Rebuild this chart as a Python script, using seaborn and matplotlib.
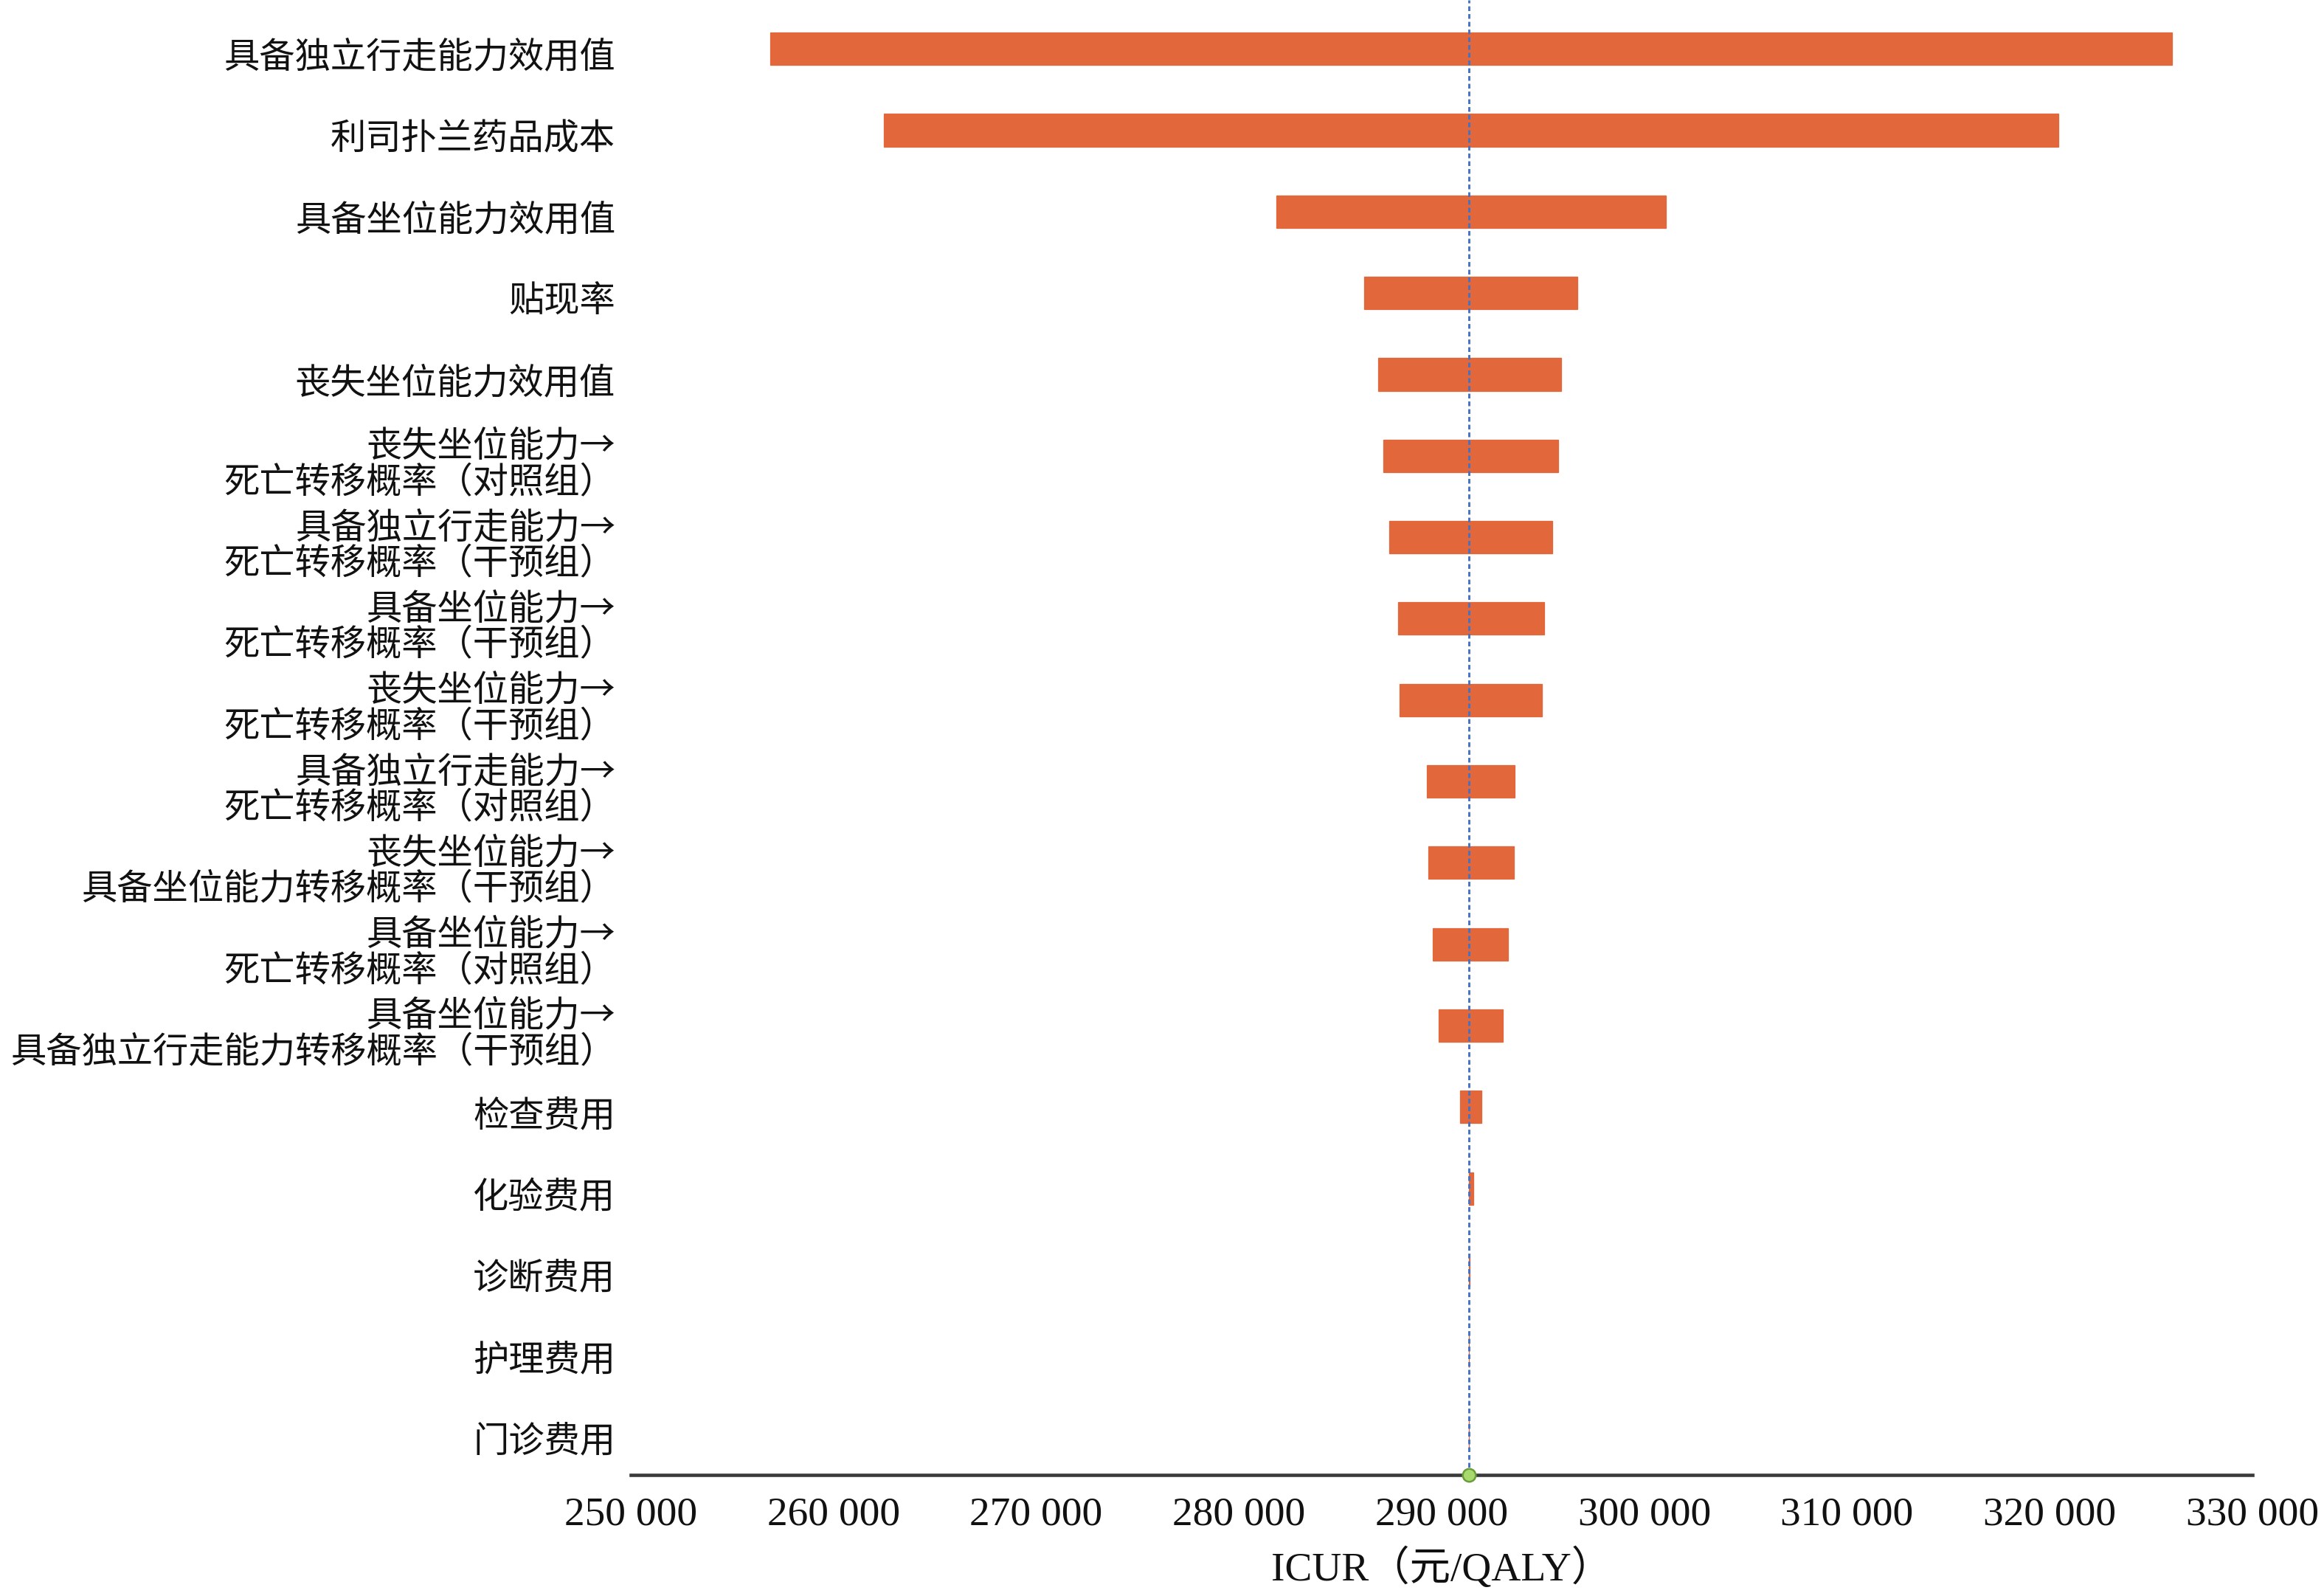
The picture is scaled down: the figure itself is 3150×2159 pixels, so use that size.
import matplotlib
matplotlib.use('Agg')
import matplotlib.pyplot as plt
import matplotlib.transforms as mtransforms
import seaborn as sns
import pandas as pd

# Parameters, top to bottom
labels = ['具备独立行走能力效用值',
          '利司扑兰药品成本',
          '具备坐位能力效用值',
          '贴现率',
          '丧失坐位能力效用值',
          '丧失坐位能力→\n死亡转移概率（对照组）',
          '具备独立行走能力→\n死亡转移概率（干预组）',
          '具备坐位能力→\n死亡转移概率（干预组）',
          '丧失坐位能力→\n死亡转移概率（干预组）',
          '具备独立行走能力→\n死亡转移概率（对照组）',
          '丧失坐位能力→\n具备坐位能力转移概率（干预组）',
          '具备坐位能力→\n死亡转移概率（对照组）',
          '具备坐位能力→\n具备独立行走能力转移概率（干预组）',
          '检查费用', '化验费用', '诊断费用', '护理费用', '门诊费用']

# ICUR at the low / high end of each parameter range (元/QALY)
low = [256880, 262470, 281850, 286190, 286880, 287125, 287405, 287840, 287915,
       289270, 289335, 289550, 289855, 290910, 291360, 291335, 291340, 291345]
high = [326030, 320430, 301065, 296690, 295890, 295750, 295470, 295060, 294950,
        293615, 293555, 293265, 293030, 291975, 291555, 291370, 291365, 291360]

base_icur = 291350
xticks = [250000, 260000, 270000, 280000, 290000, 300000, 310000, 320000, 330000]

df = pd.DataFrame({'param': labels, 'low': low, 'high': high})
df['span'] = df['high'] - df['low']

sns.set_style('white')
plt.rcParams['font.family'] = ['Liberation Serif', 'Noto Sans CJK SC']

fig = plt.figure(figsize=(10.5, 7.1967), dpi=300)
ax = fig.add_axes([0.2714, 0.0741, 0.6978, 0.9259])

bar_color = '#E2673A'
sns.barplot(data=df, y='param', x='span', orient='h', order=labels,
            color=bar_color, saturation=1, width=0.4, ax=ax,
            left=df['low'].values, edgecolor=bar_color, linewidth=0.3)

# base case line and marker
ax.axvline(base_icur, color='#4472C4', lw=0.7, ls=(0, (2.2, 1.4)), zorder=3)
ax.plot([base_icur], [17.52], marker='o', ms=4.2, color='#A8D96C',
        mec='#6A9E3A', mew=0.6, clip_on=False, zorder=5)

ax.set_xlim(250000, 330000)
ax.set_ylim(17.52, -0.6)
ax.set_xticks(xticks)
ax.set_xticklabels([f'{v:,}'.replace(',', ' ') for v in xticks], fontsize=13.3)
ax.tick_params(axis='x', direction='in', length=2.6, width=0.6, pad=7,
               colors='#333333', labelcolor='#111111')
ax.tick_params(axis='y', length=0, pad=5, labelsize=11.6, labelcolor='#111111')
shift = mtransforms.ScaledTranslation(0, -1.5 / 72, fig.dpi_scale_trans)
for t in ax.get_yticklabels():
    t.set_family(['Noto Sans CJK SC'])
    t.set_linespacing(1.0)
    t.set_transform(t.get_transform() + shift)

for s in ['top', 'right', 'left']:
    ax.spines[s].set_visible(False)
ax.spines['bottom'].set_color('#3a3a3a')
ax.spines['bottom'].set_linewidth(1.1)

ax.set_ylabel('')
ax.set_xlabel('ICUR（元/QALY）', fontsize=13.3, labelpad=4.5, color='#111111')

fig.savefig('out.png', dpi=300)
